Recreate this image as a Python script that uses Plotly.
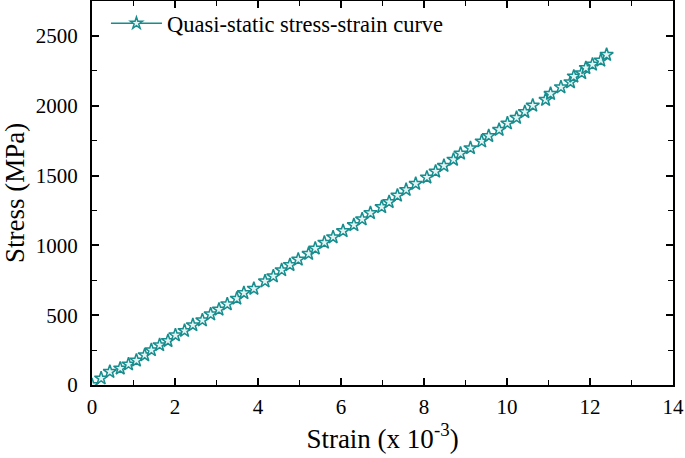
import plotly.graph_objects as go

strain = [0, 0.22, 0.43, 0.68, 0.88, 1.07, 1.27, 1.43, 1.63, 1.83, 2.01, 2.23, 2.43, 2.66,
          2.86, 3.06, 3.26, 3.49, 3.66, 3.90, 4.17, 4.37, 4.57, 4.77, 4.97, 5.22, 5.38,
          5.60, 5.81, 6.05, 6.31, 6.51, 6.71, 6.98, 7.16, 7.36, 7.57, 7.80, 8.07, 8.28,
          8.48, 8.71, 8.88, 9.12, 9.39, 9.56, 9.81, 10.01, 10.23, 10.43, 10.62, 10.93,
          11.05, 11.30, 11.53, 11.61, 11.80, 11.90, 12.06, 12.26, 12.40]
stress = [0, 48, 95, 119, 148, 176, 214, 250, 286, 316, 357, 388, 429, 464, 507, 541,
          579, 619, 659, 690, 743, 779, 823, 860, 899, 940, 978, 1020, 1059, 1103, 1146,
          1187, 1232, 1275, 1311, 1357, 1398, 1441, 1487, 1529, 1570, 1614, 1658, 1697,
          1745, 1784, 1828, 1874, 1914, 1956, 2002, 2043, 2086, 2133, 2169, 2210, 2234,
          2271, 2295, 2324, 2365]
series_name = "Quasi-static stress-strain curve"
x_title = "Strain (x 10<sup>-3</sup>)"
y_title = "Stress (MPa)"

teal = "#178d8e"
font = "Liberation Serif, Times New Roman, serif"

fig = go.Figure()
fig.add_trace(go.Scatter(
    x=strain, y=stress, mode="markers", showlegend=False,
    marker=dict(symbol="star", size=10, color="#e4f3f3",
                line=dict(color=teal, width=1.5)),
))
fig.add_trace(go.Scatter(
    x=[None], y=[None], mode="lines+markers", name=series_name,
    line=dict(color=teal, width=1.4),
    marker=dict(symbol="star", size=9, color="#e4f3f3",
                line=dict(color=teal, width=1.5)),
))

axis_common = dict(
    showline=True, linecolor="black", linewidth=2, mirror="allticks",
    ticks="inside", ticklen=7, tickwidth=1.6, tickcolor="black",
    showgrid=False, zeroline=False, automargin=False,
    tickfont=dict(family=font, size=21, color="black"),
    title_font=dict(family=font, size=27, color="black"),
)
fig.update_xaxes(range=[0, 14], tick0=0, dtick=2, title_text=x_title,
                 minor=dict(ticks="inside", ticklen=5, tickwidth=1.4, dtick=1, tickcolor="black"),
                 ticklabelstandoff=2, title_standoff=4, **axis_common)
fig.update_yaxes(range=[0, 2750], tick0=0, dtick=500, title_text=y_title,
                 minor=dict(ticks="inside", ticklen=5, tickwidth=1.4, dtick=250, tickcolor="black"),
                 ticklabelstandoff=8, title_standoff=16, **axis_common)

fig.update_layout(
    width=685, height=458,
    margin=dict(l=92, r=12, t=1, b=73),
    plot_bgcolor="white", paper_bgcolor="white",
    legend=dict(x=0.024, y=0.997, xanchor="left", yanchor="top",
                bgcolor="rgba(0,0,0,0)", itemwidth=51,
                font=dict(family=font, size=22.5, color="black")),
)

fig.write_html("out.html", config={"displayModeBar": False},
               post_script="document.body.style.margin='0';")
